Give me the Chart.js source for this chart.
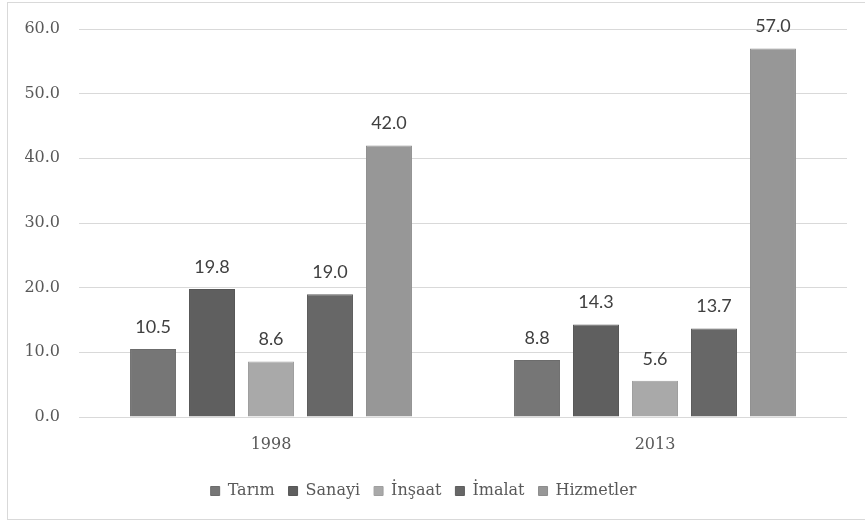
<!DOCTYPE html>
<html>
<head>
<meta charset="utf-8">
<script src="https://cdn.jsdelivr.net/npm/chart.js@4.4.1/dist/chart.umd.min.js"></script>
<style>
  html, body { margin: 0; padding: 0; background: #fff; overflow: hidden; }
  #frame { position: absolute; left: 7px; top: 2px; width: 880px; height: 518px; border: 1px solid #d9d9d9; box-sizing: border-box; }
  #wrap { position: absolute; left: 0; top: 0; width: 865px; height: 522px; }
</style>
</head>
<body>
<div id="frame"></div>
<div id="wrap"><canvas id="chart" width="865" height="522"></canvas></div>
<script>
// ---------- Data ----------
const years = ["1998", "2013"];
const tarim = [10.5, 8.8];
const sanayi = [19.8, 14.3];
const insaat = [8.6, 5.6];
const imalat = [19.0, 13.7];
const hizmetler = [42.0, 57.0];
const yTicks = [0, 10, 20, 30, 40, 50, 60];

const serif = "'DejaVu Serif', 'Liberation Serif', serif";
const sans = "Lato, 'Open Sans', sans-serif";

// ---------- Plugins ----------
const valueLabels = {
  id: "valueLabels",
  afterDatasetsDraw(chart) {
    const { ctx } = chart;
    ctx.save();
    ctx.font = "18px " + sans;
    ctx.fillStyle = "#404040";
    ctx.textAlign = "center";
    ctx.textBaseline = "middle";
    chart.data.datasets.forEach((ds, i) => {
      const meta = chart.getDatasetMeta(i);
      meta.data.forEach((bar, k) => {
        ctx.fillText(ds.data[k].toFixed(1), bar.x, bar.y - 22);
      });
    });
    ctx.restore();
  }
};

// pin the legend height so the plot area lands where the reference has it
const legendHeight = {
  id: "legendHeight",
  beforeInit(chart) {
    const fit = chart.legend.fit;
    chart.legend.fit = function () {
      fit.call(this);
      this.height = 53;
    };
  }
};

const mk = (label, data, fill, edge) => ({
  label, data,
  backgroundColor: fill,
  borderColor: edge,
  borderWidth: 1,
  categoryPercentage: 0.768,
  barPercentage: 0.78
});

new Chart(document.getElementById("chart"), {
  type: "bar",
  data: {
    labels: years,
    datasets: [
      mk("Tarım", tarim, "#767676", "#6c6c6c"),
      mk("Sanayi", sanayi, "#5f5f5f", "#575757"),
      mk("İnşaat", insaat, "#a9a9a9", "#9f9f9f"),
      mk("İmalat", imalat, "#676767", "#5e5e5e"),
      mk("Hizmetler", hizmetler, "#979797", "#8d8d8d")
    ]
  },
  options: {
    responsive: false,
    animation: false,
    layout: { padding: { left: 0, right: 18, top: 29, bottom: 0 } },
    plugins: {
      tooltip: { enabled: false },
      legend: {
        position: "bottom",
        labels: {
          boxWidth: 9, boxHeight: 9, padding: 14,
          color: "#595959",
          font: { family: serif, size: 16 }
        }
      }
    },
    scales: {
      x: {
        grid: { display: false },
        border: { display: false },
        ticks: { color: "#595959", padding: 10, font: { family: serif, size: 16 } },
        afterFit: (s) => { s.height = 52; }
      },
      y: {
        min: 0, max: 60,
        afterBuildTicks: (s) => { s.ticks = yTicks.map((v) => ({ value: v })); },
        grid: { color: "#d9d9d9", drawTicks: false },
        border: { display: false },
        ticks: { color: "#595959", padding: 19, font: { family: serif, size: 16 }, callback: (v) => Number(v).toFixed(1) },
        afterFit: (s) => { s.width = 79; }
      }
    }
  },
  plugins: [valueLabels, legendHeight]
});
</script>
</body>
</html>
